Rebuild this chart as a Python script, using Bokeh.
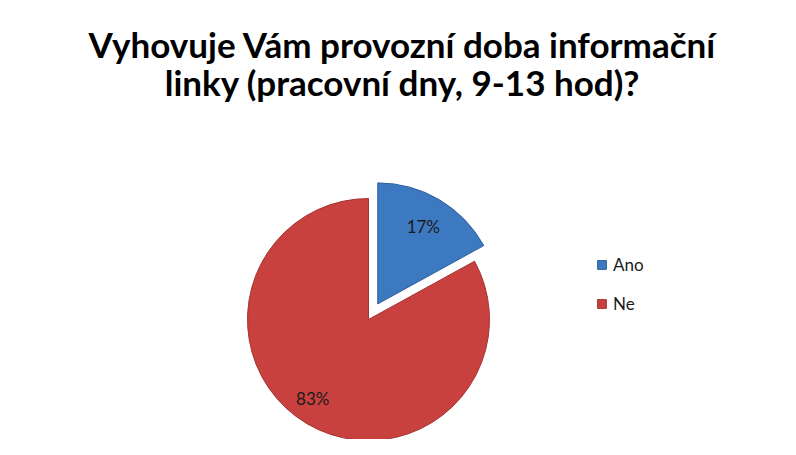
import math
from bokeh.plotting import figure
from bokeh.models import Range1d, Label, Legend, LegendItem, ColumnDataSource
from bokeh.embed import file_html
from bokeh.resources import INLINE

title_lines = ["Vyhovuje Vám provozní doba informační", "linky (pracovní dny, 9-13 hod)?"]
categories = ["Ano", "Ne"]
shares = [17, 83]
colors = ["#3D79C1", "#C9413F"]
edge_colors = ["#2E5F9C", "#A33331"]

W, H = 780, 439
R_PX = 121.0
cx_px, cy_px = 368.0, 319.0  # pie centre within plot (from top-left)

p = figure(width=W, height=H, output_backend="svg", toolbar_location=None,
           min_border=0, outline_line_color=None,
           x_range=Range1d(-cx_px / R_PX, (W - cx_px) / R_PX),
           y_range=Range1d(-(H - cy_px) / R_PX, cy_px / R_PX))
p.axis.visible = False
p.grid.visible = False
p.background_fill_color = "white"
p.border_fill_color = "white"

total = float(sum(shares))
explode = [0.15, 0.0]
label_r = [0.74, 0.80]
start = math.pi / 2
renderers = []
xs_lab, ys_lab, txt = [], [], []
for cat, v, col, ec, ex, lr in zip(categories, shares, colors, edge_colors, explode, label_r):
    sweep = 2 * math.pi * v / total
    end = start - sweep
    mid = (start + end) / 2
    ox, oy = ex * math.cos(mid), ex * math.sin(mid)
    src = ColumnDataSource(dict(x=[ox], y=[oy], s=[start], e=[end]))
    r = p.wedge(x="x", y="y", radius=1.0, start_angle="s", end_angle="e",
                direction="clock", fill_color=col, line_color=ec, line_width=1,
                source=src)
    renderers.append((cat, r))
    xs_lab.append(ox + lr * math.cos(mid - (0.08 if ex == 0 else 0.0)))
    ys_lab.append(oy + lr * math.sin(mid - (0.08 if ex == 0 else 0.0)))
    txt.append(f"{v}%")
    start = end

p.text(x=xs_lab, y=ys_lab, text=txt, text_align="center", text_baseline="middle",
       text_font_size="17px", text_color="#1a1a1a", text_font={"value": "Lato"})

legend = Legend(items=[LegendItem(label=c, renderers=[r]) for c, r in renderers],
                location=(596, 125), orientation="vertical",
                glyph_width=11, glyph_height=11, label_standoff=6, spacing=18,
                padding=0, margin=0, border_line_color=None, background_fill_alpha=0,
                label_text_font="Lato", label_text_font_size="17px",
                label_text_color="#1a1a1a")
p.add_layout(legend, "center")

for i, line in enumerate(title_lines):
    p.add_layout(Label(x=W / 2 + 12, y=H - 43 - 38 * i, x_units="screen", y_units="screen",
                       text=line, text_align="center", text_baseline="alphabetic",
                       text_font="Lato", text_font_style="bold", text_font_size="35px",
                       text_color="black"))

open("out.html", "w").write(file_html(p, INLINE))
